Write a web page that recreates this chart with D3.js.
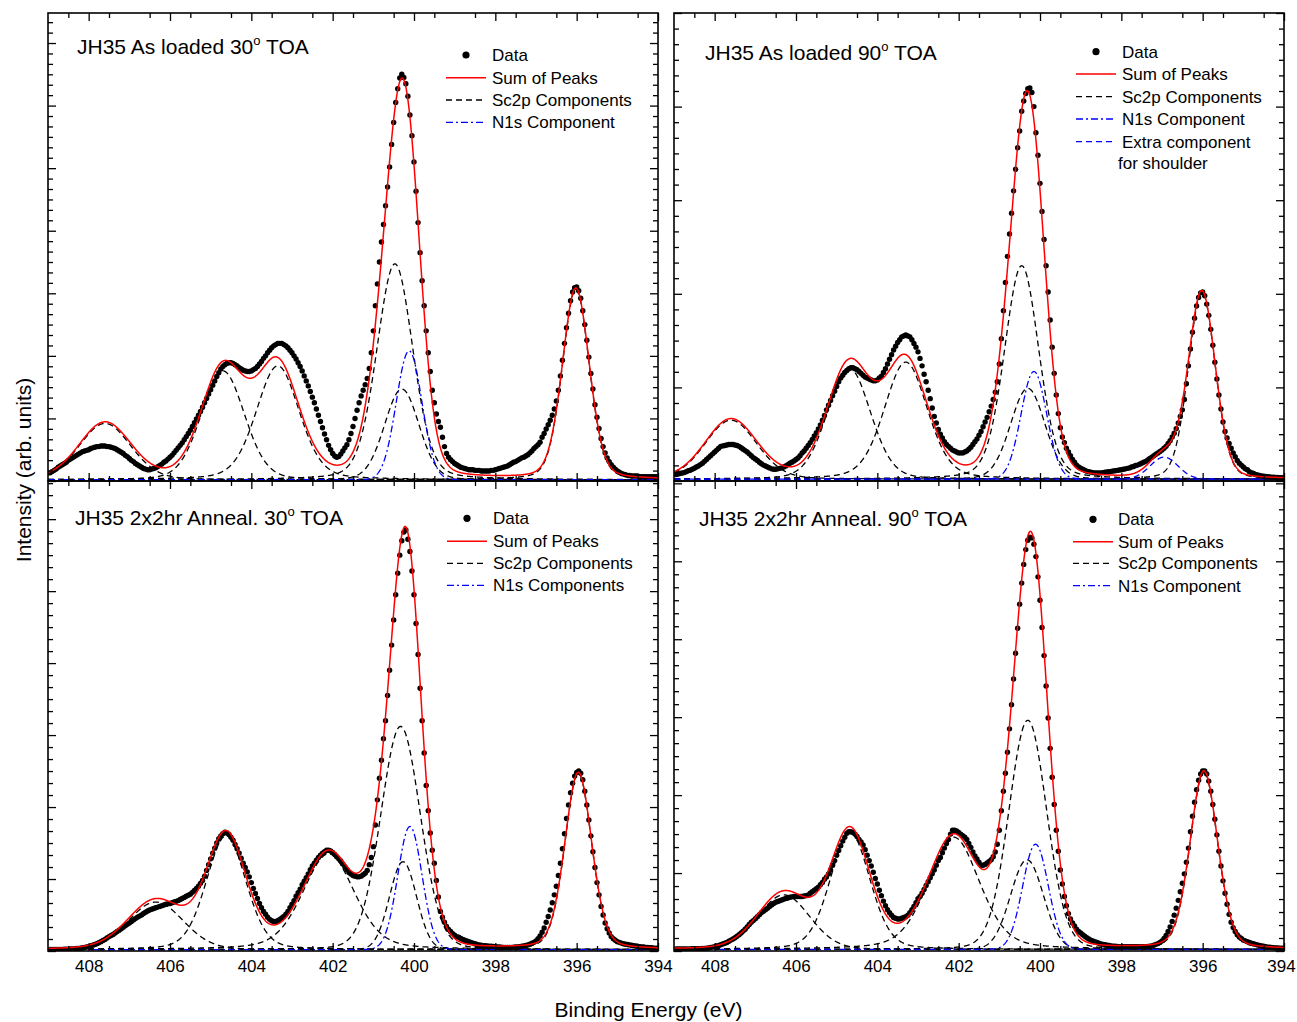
<!DOCTYPE html>
<html><head><meta charset="utf-8">
<script src="https://cdn.jsdelivr.net/npm/d3@7"></script>
<style>body{margin:0;background:#fff}svg{display:block}</style>
</head><body>
<script>
// ---------------- data ----------------
const xDomain = [409, 394];
const xTickLabels = [408, 406, 404, 402, 400, 398, 396, 394];
const dataStartEV = 408.95, dataStepEV = 0.05;

// measured intensities (arb. units), 408.95 eV -> 394.00 eV in 0.05 eV steps
const dataTL = [
0.13,0.15,0.17,0.19,0.22,0.24,0.26,0.28,0.30,0.33,
0.35,0.37,0.39,0.41,0.43,0.45,0.47,0.48,0.49,0.50,
0.52,0.53,0.54,0.55,0.55,0.56,0.56,0.56,0.55,0.55,
0.54,0.53,0.52,0.50,0.48,0.46,0.44,0.41,0.39,0.36,
0.33,0.31,0.28,0.26,0.24,0.22,0.20,0.19,0.18,0.18,
0.19,0.20,0.21,0.23,0.25,0.27,0.30,0.32,0.35,0.38,
0.41,0.45,0.49,0.53,0.57,0.61,0.66,0.71,0.76,0.81,
0.87,0.93,0.99,1.05,1.11,1.18,1.25,1.32,1.39,1.46,
1.53,1.60,1.67,1.73,1.79,1.83,1.86,1.88,1.89,1.89,
1.88,1.86,1.84,1.81,1.79,1.77,1.76,1.75,1.75,1.76,
1.78,1.80,1.83,1.87,1.91,1.96,2.00,2.05,2.09,2.13,
2.16,2.18,2.20,2.20,2.20,2.18,2.16,2.13,2.09,2.05,
2.00,1.95,1.89,1.83,1.76,1.68,1.60,1.52,1.43,1.34,
1.25,1.15,1.05,0.95,0.85,0.75,0.66,0.57,0.50,0.44,
0.40,0.38,0.39,0.43,0.48,0.53,0.58,0.66,0.76,0.87,
1.00,1.13,1.25,1.36,1.45,1.54,1.64,1.80,2.05,2.40,
2.80,3.15,3.50,3.82,4.10,4.40,4.70,5.02,5.38,5.73,
6.05,6.27,6.44,6.50,6.45,6.35,6.15,5.85,5.52,5.10,
4.63,4.13,3.65,3.20,2.80,2.40,2.05,1.75,1.45,1.25,
1.07,0.95,0.86,0.70,0.55,0.44,0.38,0.34,0.31,0.28,
0.26,0.24,0.22,0.21,0.20,0.19,0.18,0.18,0.18,0.17,
0.17,0.17,0.16,0.16,0.16,0.16,0.16,0.17,0.17,0.18,
0.19,0.20,0.21,0.22,0.23,0.24,0.26,0.28,0.30,0.31,
0.33,0.35,0.37,0.38,0.40,0.42,0.45,0.48,0.52,0.55,
0.58,0.62,0.70,0.76,0.83,0.90,0.97,1.05,1.15,1.28,
1.45,1.68,1.93,2.20,2.45,2.68,2.88,3.02,3.09,3.10,
3.04,2.92,2.72,2.50,2.25,1.98,1.72,1.47,1.22,1.02,
0.84,0.68,0.55,0.45,0.37,0.31,0.26,0.22,0.19,0.16,
0.14,0.12,0.11,0.10,0.09,0.09,0.08,0.08,0.08,0.08,
0.07,0.07,0.07,0.07,0.07,0.07,0.07,0.07,0.07,0.07];

const dataTR = [
0.07,0.075,0.08,0.085,0.09,0.10,0.11,0.115,0.125,0.136,
0.15,0.16,0.175,0.19,0.21,0.23,0.25,0.27,0.29,0.31,
0.33,0.35,0.37,0.375,0.38,0.385,0.39,0.39,0.39,0.385,
0.38,0.37,0.355,0.34,0.325,0.31,0.29,0.27,0.25,0.235,
0.22,0.20,0.185,0.17,0.16,0.15,0.14,0.13,0.125,0.125,
0.13,0.135,0.14,0.15,0.16,0.175,0.19,0.20,0.215,0.23,
0.245,0.27,0.30,0.32,0.35,0.38,0.41,0.445,0.48,0.515,
0.555,0.60,0.65,0.70,0.76,0.81,0.86,0.91,0.96,1.01,
1.06,1.10,1.13,1.16,1.18,1.20,1.21,1.21,1.20,1.19,
1.17,1.15,1.13,1.11,1.10,1.09,1.08,1.07,1.07,1.08,
1.10,1.12,1.16,1.20,1.25,1.30,1.35,1.40,1.44,1.48,
1.51,1.54,1.55,1.56,1.55,1.54,1.51,1.47,1.43,1.38,
1.31,1.23,1.14,1.06,0.97,0.88,0.78,0.69,0.62,0.55,
0.50,0.46,0.42,0.39,0.37,0.35,0.33,0.32,0.31,0.30,
0.30,0.30,0.31,0.32,0.34,0.36,0.39,0.42,0.45,0.49,
0.53,0.58,0.63,0.68,0.74,0.80,0.87,0.95,1.06,1.25,
1.52,1.82,2.12,2.40,2.64,2.86,3.10,3.33,3.56,3.74,
3.95,4.06,4.14,4.19,4.20,4.15,4.00,3.72,3.48,3.18,
2.88,2.58,2.30,2.02,1.72,1.43,1.15,0.92,0.72,0.57,
0.47,0.41,0.35,0.31,0.27,0.23,0.20,0.17,0.15,0.136,
0.125,0.115,0.105,0.10,0.095,0.09,0.087,0.085,0.085,0.087,
0.09,0.093,0.097,0.10,0.103,0.107,0.11,0.113,0.117,0.12,
0.125,0.13,0.135,0.14,0.15,0.155,0.165,0.17,0.18,0.19,
0.20,0.21,0.225,0.24,0.255,0.27,0.285,0.30,0.315,0.33,
0.35,0.37,0.40,0.43,0.47,0.51,0.56,0.62,0.69,0.76,
0.87,1.04,1.23,1.41,1.59,1.74,1.87,1.96,2.01,2.02,
1.98,1.89,1.77,1.62,1.45,1.27,1.09,0.92,0.77,0.63,
0.53,0.46,0.40,0.35,0.30,0.26,0.22,0.19,0.17,0.15,
0.13,0.12,0.10,0.09,0.08,0.07,0.065,0.06,0.055,0.05,
0.048,0.045,0.043,0.04,0.04,0.038,0.037,0.036,0.035,0.035];

const dataBL = [
0.02,0.02,0.02,0.02,0.02,0.02,0.02,0.025,0.025,0.025,
0.03,0.03,0.03,0.035,0.035,0.04,0.045,0.05,0.055,0.06,
0.07,0.08,0.09,0.10,0.115,0.13,0.145,0.16,0.18,0.20,
0.215,0.23,0.25,0.27,0.29,0.31,0.33,0.35,0.37,0.39,
0.41,0.43,0.45,0.47,0.485,0.50,0.52,0.54,0.555,0.57,
0.58,0.59,0.60,0.61,0.62,0.63,0.64,0.65,0.655,0.66,
0.67,0.68,0.69,0.70,0.715,0.73,0.745,0.76,0.775,0.79,
0.815,0.84,0.87,0.90,0.94,0.98,1.04,1.12,1.20,1.28,
1.36,1.43,1.50,1.56,1.60,1.63,1.65,1.64,1.62,1.58,
1.54,1.48,1.42,1.36,1.29,1.22,1.16,1.10,1.03,0.95,
0.87,0.80,0.73,0.66,0.60,0.55,0.51,0.47,0.44,0.42,
0.41,0.41,0.42,0.44,0.46,0.48,0.51,0.55,0.60,0.65,
0.70,0.76,0.81,0.86,0.92,0.97,1.02,1.07,1.13,1.18,
1.22,1.26,1.30,1.33,1.36,1.38,1.40,1.40,1.39,1.37,
1.34,1.31,1.28,1.25,1.21,1.17,1.13,1.09,1.07,1.05,
1.04,1.03,1.03,1.04,1.06,1.08,1.12,1.20,1.30,1.45,
1.75,2.10,2.40,2.65,2.95,3.20,3.55,3.90,4.25,4.60,
4.95,5.25,5.50,5.70,5.82,5.85,5.72,5.55,5.28,4.95,
4.55,4.12,3.65,3.20,2.75,2.30,1.95,1.64,1.40,1.22,
0.98,0.75,0.55,0.47,0.40,0.34,0.30,0.27,0.24,0.22,
0.20,0.19,0.175,0.16,0.15,0.14,0.13,0.12,0.11,0.10,
0.09,0.085,0.08,0.075,0.072,0.07,0.067,0.065,0.062,0.06,
0.057,0.055,0.053,0.05,0.05,0.05,0.05,0.05,0.052,0.055,
0.057,0.06,0.065,0.07,0.077,0.085,0.095,0.11,0.12,0.14,
0.17,0.21,0.26,0.32,0.40,0.48,0.57,0.67,0.78,0.90,
1.05,1.22,1.42,1.63,1.84,2.03,2.20,2.33,2.43,2.48,
2.50,2.47,2.38,2.22,2.03,1.82,1.60,1.38,1.16,0.95,
0.78,0.62,0.50,0.39,0.31,0.25,0.20,0.17,0.15,0.13,
0.12,0.11,0.10,0.095,0.09,0.085,0.08,0.075,0.07,0.065,
0.06,0.055,0.055,0.05,0.05,0.045,0.045,0.04,0.04,0.04];

const dataBR = [
0.025,0.025,0.025,0.025,0.025,0.025,0.025,0.025,0.028,0.03,
0.03,0.03,0.03,0.032,0.033,0.035,0.04,0.045,0.05,0.055,
0.065,0.07,0.08,0.09,0.10,0.11,0.125,0.14,0.155,0.17,
0.19,0.21,0.23,0.255,0.28,0.31,0.34,0.37,0.39,0.415,
0.44,0.465,0.49,0.51,0.53,0.55,0.57,0.59,0.61,0.625,
0.635,0.645,0.655,0.665,0.675,0.68,0.69,0.695,0.70,0.70,
0.70,0.70,0.70,0.705,0.71,0.72,0.74,0.76,0.78,0.80,
0.82,0.85,0.88,0.92,0.95,0.99,1.04,1.10,1.16,1.23,
1.29,1.35,1.41,1.46,1.51,1.53,1.53,1.52,1.50,1.47,
1.43,1.40,1.36,1.30,1.23,1.16,1.09,1.01,0.93,0.86,
0.78,0.71,0.64,0.58,0.53,0.49,0.46,0.43,0.42,0.41,
0.41,0.42,0.43,0.44,0.46,0.49,0.53,0.57,0.62,0.67,
0.70,0.74,0.79,0.84,0.89,0.94,0.99,1.04,1.10,1.16,
1.20,1.26,1.32,1.38,1.43,1.50,1.55,1.55,1.54,1.52,
1.50,1.48,1.46,1.43,1.38,1.33,1.27,1.22,1.18,1.14,
1.10,1.10,1.11,1.13,1.15,1.17,1.21,1.27,1.37,1.55,
1.80,2.05,2.28,2.55,2.85,3.16,3.49,3.82,4.14,4.45,
4.72,4.96,5.15,5.27,5.31,5.30,5.22,5.06,4.80,4.50,
4.15,3.79,3.40,2.99,2.60,2.23,1.88,1.55,1.28,1.04,
0.86,0.70,0.58,0.48,0.41,0.36,0.32,0.28,0.25,0.23,
0.21,0.19,0.17,0.155,0.14,0.13,0.12,0.11,0.10,0.09,
0.085,0.08,0.075,0.07,0.065,0.062,0.06,0.058,0.056,0.055,
0.055,0.055,0.055,0.055,0.055,0.055,0.055,0.055,0.055,0.055,
0.055,0.056,0.058,0.06,0.065,0.075,0.085,0.095,0.11,0.13,
0.16,0.20,0.25,0.31,0.38,0.46,0.55,0.65,0.76,0.87,
0.99,1.14,1.32,1.53,1.73,1.91,2.07,2.19,2.27,2.31,
2.31,2.27,2.18,2.05,1.88,1.69,1.49,1.28,1.09,0.90,
0.74,0.60,0.47,0.37,0.30,0.25,0.21,0.18,0.16,0.14,
0.13,0.12,0.11,0.10,0.093,0.085,0.078,0.07,0.065,0.06,
0.055,0.05,0.048,0.045,0.042,0.04,0.038,0.036,0.035,0.035];

// fitted components: [centre (eV), height, FWHM (eV), Lorentzian fraction]
const sc2pTL = [[407.6,0.90,1.5,0.15],[404.7,1.74,1.25,0.15],[403.35,1.82,1.25,0.25],[400.47,3.45,1.05,0.2],[400.3,1.45,1.0,0.1],[396.02,3.05,0.78,0.2]];
const n1sTL  = [[400.12,2.06,0.74,0]];
const sc2pTR = [[407.6,0.63,1.5,0.15],[404.7,1.19,1.25,0.15],[403.3,1.25,1.25,0.25],[400.45,2.28,1.0,0.2],[400.3,0.97,1.0,0.1],[396.02,2.0,0.78,0.15]];
const n1sTR  = [[400.15,1.15,0.74,0]];
const extraTR = [[396.95,0.235,0.8,0]];
const sc2pBL = [[406.35,0.66,1.6,0.1],[404.62,1.58,1.15,0.2],[402.1,1.33,1.5,0.3],[400.33,3.1,1.15,0.1],[400.27,1.22,0.78,0],[395.96,2.45,0.78,0.2]];
const n1sBL  = [[400.1,1.71,0.7,0]];
const sc2pBR = [[406.3,0.70,1.5,0.1],[404.67,1.50,1.15,0.2],[402.12,1.44,1.5,0.3],[400.3,2.94,1.1,0.1],[400.32,1.15,0.95,0],[395.97,2.28,0.8,0.2]];
const n1sBR  = [[400.11,1.35,0.74,0]];
const baselines = [0.02, 0.02, 0.02, 0.02];
const yTops = [7.48, 5.0, 6.53, 6.03];

const panelTitles = [["JH35 As loaded 30"," TOA"],["JH35 As loaded 90"," TOA"],["JH35 2x2hr Anneal. 30"," TOA"],["JH35 2x2hr Anneal. 90"," TOA"]];
const legendLabels = [
  ["Data","Sum of Peaks","Sc2p Components","N1s Component"],
  ["Data","Sum of Peaks","Sc2p Components","N1s Component","Extra component","for shoulder"],
  ["Data","Sum of Peaks","Sc2p Components","N1s Components"],
  ["Data","Sum of Peaks","Sc2p Components","N1s Component"]];

// ---------------- drawing ----------------
const FONT = '"Liberation Sans", Arial, Helvetica, sans-serif';
const W = 1297, H = 1022;
const svg = d3.select('body').append('svg').attr('width', W).attr('height', H)
  .style('font-family', FONT);

const layout = [
  {x0:48,  x1:658,  y0:13,  y1:481, tx:77,  ty:54,    lineX:446,  textX:492,  rows:[55,77.7,100,122.3], labels:false},
  {x0:674, x1:1284, y0:13,  y1:481, tx:705, ty:60,    lineX:1076, textX:1122, rows:[51.7,74,96.7,119,141.7,163.3], labels:false},
  {x0:48,  x1:658,  y0:481, y1:951, tx:75,  ty:524.5, lineX:447,  textX:493,  rows:[518.3,541.3,563.3,585.3], labels:true},
  {x0:674, x1:1284, y0:481, y1:951, tx:699, ty:525.5, lineX:1073, textX:1118, rows:[519.3,541.7,563.3,585.7], labels:true}
];
const datasets = [dataTL, dataTR, dataBL, dataBR];
const sc2pSets = [sc2pTL, sc2pTR, sc2pBL, sc2pBR];
const n1sSets = [n1sTL, n1sTR, n1sBL, n1sBR];
const extraSets = [[], extraTR, [], []];

const K = 4 * Math.LN2;
function peak(E, p) {
  const t = (E - p[0]) / p[2];
  return p[1] * ((1 - p[3]) * Math.exp(-K * t * t) + p[3] / (1 + 4 * t * t));
}
const grid = d3.range(0, 1501).map(i => 409 - i * 0.01);

const styles = {
  sum:   {stroke:'#ff0000', w:1.5, dash:null},
  sc2p:  {stroke:'#000000', w:1.3, dash:'6,4'},
  n1s:   {stroke:'#0000ff', w:1.3, dash:'7,3,2,3'},
  extra: {stroke:'#0000ff', w:1.3, dash:'6,4'}
};

layout.forEach((L, i) => {
  const x = d3.scaleLinear().domain(xDomain).range([L.x0, L.x1]);
  const y = d3.scaleLinear().domain([0, yTops[i]]).range([L.y1, L.y0]);
  const g = svg.append('g');
  const clipId = 'clip' + i;
  svg.append('clipPath').attr('id', clipId).append('rect')
    .attr('x', L.x0).attr('y', L.y0).attr('width', L.x1 - L.x0).attr('height', L.y1 - L.y0);
  const plot = g.append('g').attr('clip-path', `url(#${clipId})`);
  const base = baselines[i];
  const line = d3.line().x(d => x(d[0])).y(d => y(d[1]));
  const comps = [];
  sc2pSets[i].forEach(p => comps.push({p, s:'sc2p'}));
  n1sSets[i].forEach(p => comps.push({p, s:'n1s'}));
  extraSets[i].forEach(p => comps.push({p, s:'extra'}));

  comps.forEach(c => {
    const st = styles[c.s];
    plot.append('path').datum(grid.map(E => [E, base + peak(E, c.p)]))
      .attr('d', line).attr('fill', 'none').attr('stroke', st.stroke)
      .attr('stroke-width', st.w).attr('stroke-dasharray', st.dash);
  });
  // data points
  plot.append('g').selectAll('circle').data(datasets[i]).join('circle')
    .attr('cx', (d, k) => x(dataStartEV - k * dataStepEV)).attr('cy', d => y(d))
    .attr('r', 2.7).attr('fill', '#000');
  // sum of peaks
  plot.append('path').datum(grid.map(E => [E, base + d3.sum(comps, c => peak(E, c.p))]))
    .attr('d', line).attr('fill', 'none').attr('stroke', styles.sum.stroke).attr('stroke-width', styles.sum.w);

  // axes (inward ticks on all sides)
  const xMajor = xTickLabels;
  const xMinor = d3.range(394.5, 409, 1);
  const yMajor = d3.range(0, Math.floor(yTops[i]) + 1);
  const yMinor = d3.range(0, Math.floor(yTops[i] * 6) + 1).map(k => k / 6).filter(v => Math.abs(v - Math.round(v)) > 1e-6);
  const axes = g.append('g');
  function add(axisGen, tr, vals, size, fmt) {
    const a = axes.append('g').attr('transform', tr)
      .call(axisGen.tickValues(vals).tickSize(size).tickPadding(9).tickFormat(fmt));
    a.select('.domain').remove();
    a.selectAll('line').attr('stroke', '#000').attr('stroke-width', 1.3);
    a.attr('font-family', FONT).attr('font-size', 17);
    a.selectAll('text').attr('fill', '#000');
    return a;
  }
  const bx = add(d3.axisBottom(x), `translate(0,${L.y1})`, xMajor, -8, L.labels ? d3.format('d') : () => '');
  if (L.labels && L.x1 > 1200) bx.selectAll('text').filter(d => d === 394).attr('dx', -3);
  add(d3.axisBottom(x), `translate(0,${L.y1})`, xMinor, -5, () => '');
  add(d3.axisTop(x), `translate(0,${L.y0})`, xMajor, -8, () => '');
  add(d3.axisTop(x), `translate(0,${L.y0})`, xMinor, -5, () => '');
  add(d3.axisLeft(y), `translate(${L.x0},0)`, yMajor, -8, () => '');
  add(d3.axisLeft(y), `translate(${L.x0},0)`, yMinor, -5, () => '');
  add(d3.axisRight(y), `translate(${L.x1},0)`, yMajor, -8, () => '');
  add(d3.axisRight(y), `translate(${L.x1},0)`, yMinor, -5, () => '');
  g.append('rect').attr('x', L.x0).attr('y', L.y0).attr('width', L.x1 - L.x0).attr('height', L.y1 - L.y0)
    .attr('fill', 'none').attr('stroke', '#000').attr('stroke-width', 1.6);

  // title
  const t = g.append('text').attr('x', L.tx).attr('y', L.ty).attr('font-size', 21).attr('fill', '#000');
  t.append('tspan').text(panelTitles[i][0]);
  t.append('tspan').attr('font-size', 13).attr('dy', -9).text('o');
  t.append('tspan').attr('dy', 9).text(panelTitles[i][1]);

  // legend
  const lg = g.append('g').attr('font-size', 17);
  const labels = legendLabels[i];
  const kinds = ['dot', 'sum', 'sc2p', 'n1s', 'extra', null];
  labels.forEach((lab, r) => {
    const yy = L.rows[r];
    const kind = kinds[r];
    if (kind === 'dot') {
      lg.append('circle').attr('cx', L.lineX + 20).attr('cy', yy).attr('r', 3.6).attr('fill', '#000');
    } else if (kind) {
      const st = styles[kind];
      lg.append('line').attr('x1', L.lineX).attr('x2', L.lineX + 40).attr('y1', yy).attr('y2', yy)
        .attr('stroke', st.stroke).attr('stroke-width', st.w).attr('stroke-dasharray', st.dash);
    }
    lg.append('text').attr('x', kind ? L.textX : L.textX - 4).attr('y', yy).attr('dy', '0.35em')
      .attr('fill', '#000').text(lab);
  });
});

// axis titles
svg.append('text').attr('x', 648.5).attr('y', 1017).attr('text-anchor', 'middle')
  .attr('font-size', 21).attr('fill', '#000').text('Binding Energy (eV)');
svg.append('text').attr('transform', 'translate(31,470) rotate(-90)').attr('text-anchor', 'middle')
  .attr('font-size', 21).attr('fill', '#000').text('Intensity (arb. units)');
</script>
</body></html>
